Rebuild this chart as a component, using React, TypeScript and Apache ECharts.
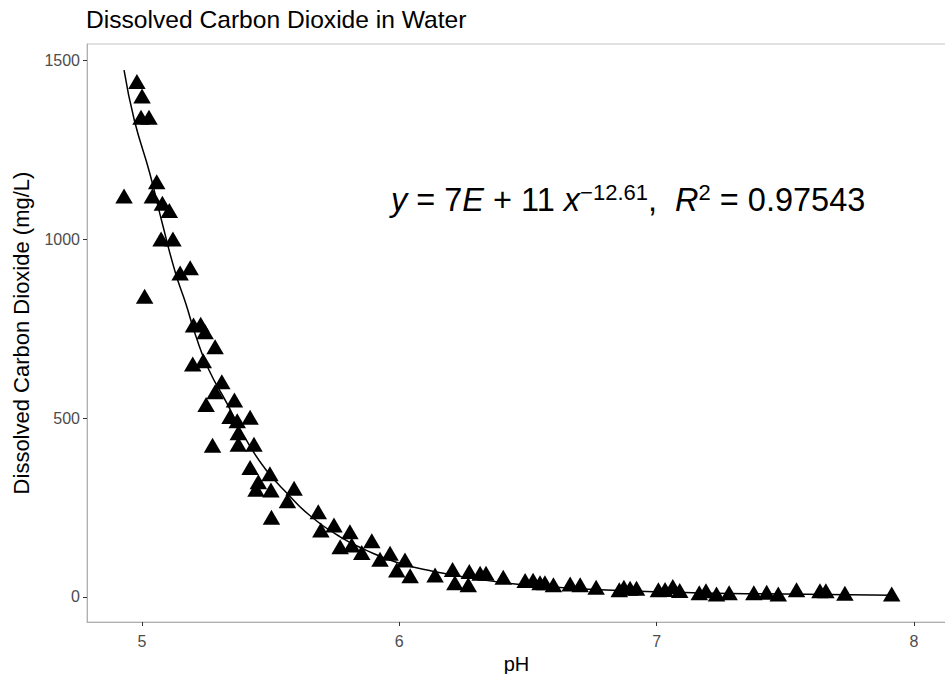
import React, { useEffect, useRef } from "react";
import * as echarts from "echarts";

// Observations: pH vs dissolved CO2 (mg/L)
const PH = [
  4.98, 5.0, 4.996, 5.027, 4.93, 5.057, 5.04, 5.079, 5.106, 5.074, 5.12, 5.187, 5.148, 5.01,
  5.2, 5.228, 5.245, 5.284, 5.197, 5.238, 5.31, 5.284, 5.359, 5.249, 5.342, 5.37, 5.42, 5.374,
  5.274, 5.374, 5.435, 5.42, 5.497, 5.452, 5.443, 5.501, 5.591, 5.565, 5.503, 5.685, 5.695,
  5.746, 5.808, 5.77, 5.815, 5.893, 5.854, 5.925, 5.964, 6.022, 5.99, 6.042, 6.139, 6.207,
  6.216, 6.272, 6.268, 6.314, 6.337, 6.404, 6.489, 6.52, 6.547, 6.566, 6.599, 6.664, 6.703,
  6.765, 6.855, 6.873, 6.897, 6.922, 7.007, 7.033, 7.063, 7.09, 7.166, 7.192, 7.233, 7.282,
  7.378, 7.428, 7.473, 7.544, 7.635, 7.658, 7.732, 7.914,
];
const CO2 = [
  1440, 1400, 1340, 1340, 1120, 1160, 1120, 1100, 1080, 1000, 1000, 920, 905, 840,
  760, 762, 741, 699, 651, 660, 601, 573, 550, 538, 504, 492, 502, 459,
  424, 427, 427, 362, 344, 322, 301, 299, 304, 269, 223, 238, 187,
  201, 182, 140, 145, 157, 124, 105, 122, 103, 75, 59, 61, 77,
  40, 71, 34, 66, 66, 55, 46, 47, 40, 40, 34, 36, 34,
  27, 20, 27, 24, 24, 20, 21, 29, 18, 12, 17, 8, 12,
  12, 13, 8, 20, 17, 17, 10, 8,
];

// Fitted power curve
const FIT_X = [4.93, 4.97, 5.03, 5.08, 5.13, 5.17, 5.21, 5.26, 5.33, 5.4, 5.48, 5.57, 5.65, 5.77, 5.87, 6.0, 6.13, 6.33, 6.52, 6.78, 7.05, 7.4, 7.92];
const FIT_Y = [1472, 1332, 1184, 1040, 905, 820, 727, 634, 541, 445, 357, 285, 229, 168, 131, 94, 72, 47, 32, 20, 13, 9, 5];

const X_TICKS = [5, 6, 7, 8];
const Y_TICKS = [0, 500, 1000, 1500];
const X_MIN = 4.786;
const X_MAX = 8.125;
const Y_MIN = -70;
const Y_MAX = 1545;

const TITLE = "Dissolved Carbon Dioxide in Water";
const X_NAME = "pH";
const Y_NAME = "Dissolved Carbon Dioxide (mg/L)";

const FONT = "'Liberation Sans', Arial, Helvetica, sans-serif";

export default function App() {
  const ref = useRef<HTMLDivElement>(null);
  useEffect(() => {
    if (!ref.current) return;
    const chart = echarts.init(ref.current, null, { renderer: "svg" });
    const points = PH.map((x, i) => [x, CO2[i]]);
    const fit = FIT_X.map((x, i) => [x, FIT_Y[i]]);
    const axisLabel = {
      color: "#4d4d4d",
      fontSize: 16,
      fontFamily: FONT,
      formatter: (v: number) => String(v),
    };
    chart.setOption({
      animation: false,
      backgroundColor: "#ffffff",
      textStyle: { fontFamily: FONT },
      title: {
        text: TITLE,
        left: 86,
        top: 7,
        padding: 0,
        textStyle: { fontFamily: FONT, fontSize: 24.6, fontWeight: "normal", color: "#000" },
      },
      grid: {
        left: 87,
        top: 44,
        right: -1,
        bottom: 52,
        show: true,
        borderColor: "#c4c4c4",
        borderWidth: 1,
        containLabel: false,
        outerBoundsMode: "none",
      },
      xAxis: {
        type: "value",
        min: X_MIN,
        max: X_MAX,
        name: X_NAME,
        nameLocation: "middle",
        nameGap: 31,
        nameTextStyle: { color: "#000", fontSize: 20, fontFamily: FONT },
        axisLine: { show: true, onZero: false, lineStyle: { color: "#b0b0b0", width: 1 } },
        axisTick: { show: true, customValues: X_TICKS, length: 4, lineStyle: { color: "#333" } },
        axisLabel: { ...axisLabel, customValues: X_TICKS, margin: 11 },
        splitLine: { show: false },
      },
      yAxis: {
        type: "value",
        min: Y_MIN,
        max: Y_MAX,
        name: Y_NAME,
        nameLocation: "middle",
        nameGap: 55,
        nameTextStyle: { color: "#000", fontSize: 22, fontFamily: FONT },
        axisLine: { show: true, onZero: false, lineStyle: { color: "#b0b0b0", width: 1 } },
        axisTick: { show: true, customValues: Y_TICKS, length: 4, lineStyle: { color: "#333" } },
        axisLabel: { ...axisLabel, customValues: Y_TICKS, margin: 7 },
        splitLine: { show: false },
      },
      graphic: [
        {
          type: "text",
          left: 391,
          top: 181,
          z: 100,
          style: {
            text: "{i|y}{n| = 7}{i|E}{n| + 11 }{i|x}{s|\u221212.61}{n|,  }{i|R}{s|2}{n| = 0.97543}",
            fill: "#000",
            rich: {
              n: { fontFamily: FONT, fontSize: 32.5, lineHeight: 38, fill: "#000" },
              i: { fontFamily: FONT, fontSize: 32.5, lineHeight: 38, fontStyle: "italic", fill: "#000" },
              s: { fontFamily: FONT, fontSize: 22, lineHeight: 20, verticalAlign: "top", fill: "#000" },
            },
          },
        },
      ],
      series: [
        {
          type: "scatter",
          data: points,
          symbol: "triangle",
          symbolSize: [17.5, 15],
          itemStyle: { color: "#000", opacity: 1 },
          z: 2,
        },
        {
          type: "line",
          data: fit,
          smooth: true,
          showSymbol: false,
          lineStyle: { color: "#000", width: 1.5 },
          z: 3,
        },
      ],
    });
    return () => chart.dispose();
  }, []);
  return (
    <div
      ref={ref}
      style={{ position: "fixed", left: 0, top: 0, width: 945, height: 674, background: "#fff" }}
    />
  );
}
